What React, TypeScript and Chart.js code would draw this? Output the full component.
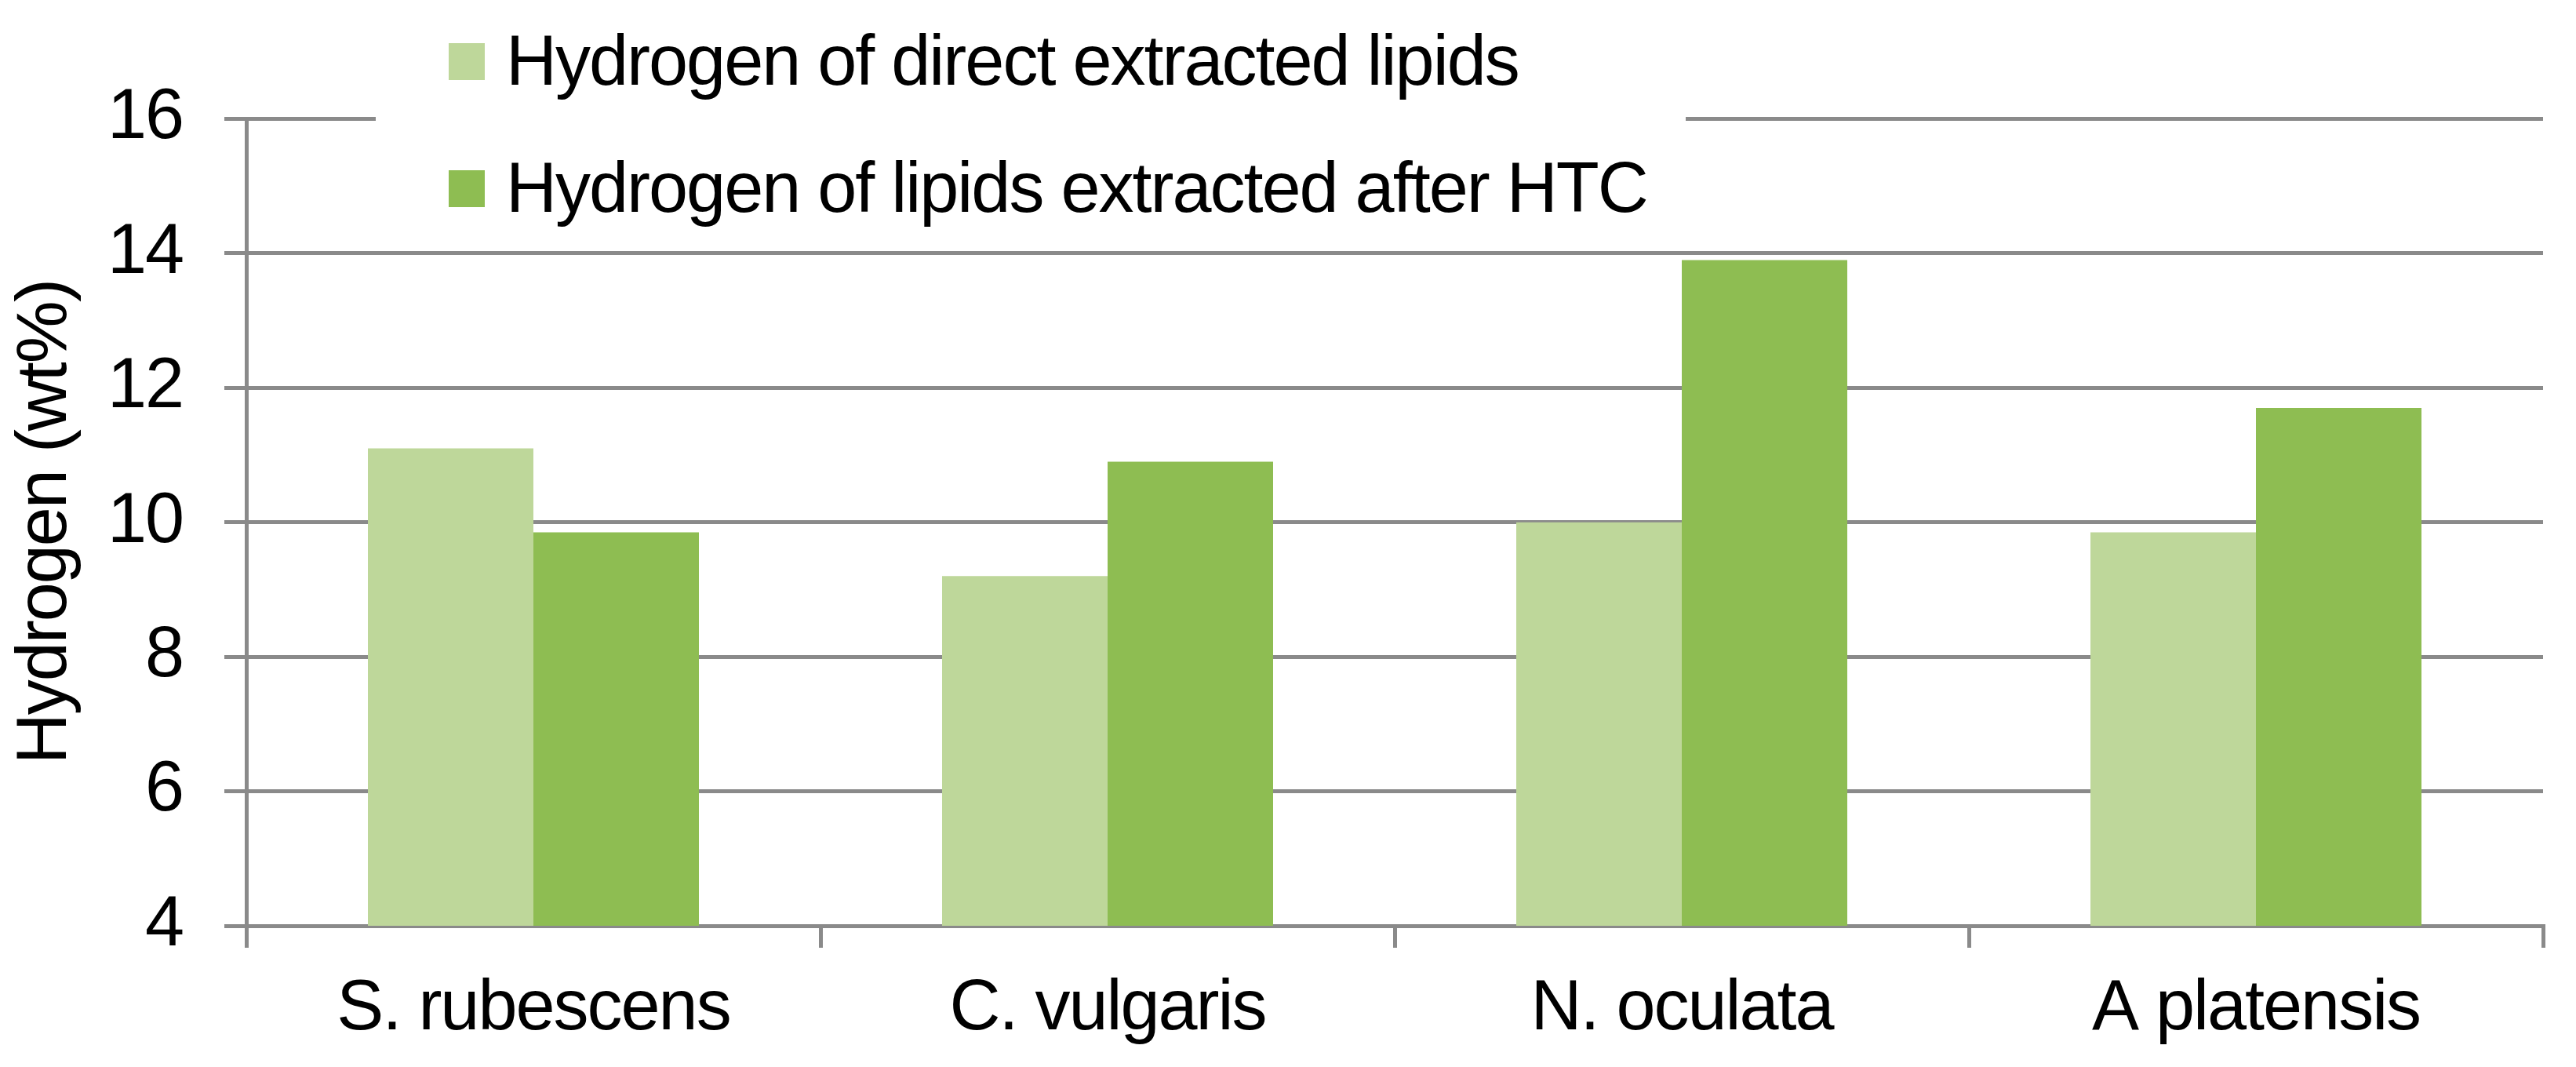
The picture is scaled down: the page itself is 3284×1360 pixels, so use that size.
import React, { useEffect, useRef } from "react";
import { Chart, registerables } from "chart.js";

Chart.register(...registerables);

const categories = ["S. rubescens", "C. vulgaris", "N. oculata", "A platensis"];
const seriesLabels = [
  "Hydrogen of direct extracted lipids",
  "Hydrogen of lipids extracted after HTC",
];
const directLipids = [11.1, 9.2, 10.0, 9.85];
const afterHtcLipids = [9.85, 10.9, 13.9, 11.7];
const yMin = 4;
const yMax = 16;
const yStep = 2;
const yTitle = "Hydrogen (wt%)";

const FONT_FAMILY = '"Liberation Sans", Arial, Helvetica, sans-serif';
const FONT_SIZE = 90;
const LETTER_SPACING = "-2px";
const GRID = "#8a8a8a";

const tightText = {
  id: "tightText",
  beforeUpdate(chart: any) {
    (chart.ctx as any).letterSpacing = LETTER_SPACING;
  },
  beforeDraw(chart: any) {
    (chart.ctx as any).letterSpacing = LETTER_SPACING;
  },
};

const insetLegend = {
  id: "insetLegend",
  afterDraw(chart: any) {
    const ctx = chart.ctx as CanvasRenderingContext2D;
    ctx.save();
    (ctx as any).letterSpacing = LETTER_SPACING;
    ctx.fillStyle = "#ffffff";
    ctx.fillRect(479, 0, 1670, 305);
    ctx.font = `${FONT_SIZE}px ${FONT_FAMILY}`;
    ctx.textAlign = "left";
    ctx.textBaseline = "alphabetic";
    chart.data.datasets.forEach((ds: any, i: number) => {
      const top = 55 + i * 162;
      ctx.fillStyle = ds.backgroundColor;
      ctx.fillRect(572, top, 46, 47);
      ctx.fillStyle = "#000000";
      ctx.fillText(ds.label, 645, 108 + i * 162);
    });
    ctx.restore();
  },
};

export default function App() {
  const ref = useRef<HTMLCanvasElement | null>(null);

  useEffect(() => {
    if (!ref.current) return;
    const chart = new Chart(ref.current, {
      type: "bar",
      data: {
        labels: categories,
        datasets: [
          {
            label: seriesLabels[0],
            data: directLipids,
            backgroundColor: "#bed79a",
            borderWidth: 0,
            categoryPercentage: 0.5765,
            barPercentage: 1,
          },
          {
            label: seriesLabels[1],
            data: afterHtcLipids,
            backgroundColor: "#8ebd52",
            borderWidth: 0,
            categoryPercentage: 0.5765,
            barPercentage: 1,
          },
        ],
      },
      options: {
        responsive: false,
        animation: false,
        devicePixelRatio: 1,
        layout: { padding: { top: 151.5, right: 42, bottom: 0, left: 0 } },
        plugins: {
          legend: { display: false },
          tooltip: { enabled: false },
          title: { display: false },
        },
        scales: {
          x: {
            type: "category",
            offset: true,
            grid: {
              offset: true,
              drawOnChartArea: false,
              drawTicks: true,
              tickLength: 28,
              color: GRID,
              lineWidth: 5,
            },
            border: { display: true, color: GRID, width: 5 },
            ticks: {
              color: "#000000",
              padding: 25,
              maxRotation: 0,
              autoSkip: false,
              font: { family: FONT_FAMILY, size: FONT_SIZE },
            },
            afterFit: (scale: any) => {
              scale.height = 180;
            },
          },
          y: {
            min: yMin,
            max: yMax,
            grid: {
              drawTicks: true,
              tickLength: 28,
              color: GRID,
              lineWidth: 5,
            },
            border: { display: true, color: GRID, width: 5 },
            ticks: {
              stepSize: yStep,
              color: "#000000",
              padding: 53,
              font: { family: FONT_FAMILY, size: FONT_SIZE },
            },
            title: {
              display: true,
              text: yTitle,
              color: "#000000",
              padding: { top: 5, bottom: 0 },
              font: { family: FONT_FAMILY, size: FONT_SIZE },
            },
            afterFit: (scale: any) => {
              scale.width = 314;
            },
          },
        },
      },
      plugins: [tightText, insetLegend],
    } as any);
    return () => chart.destroy();
  }, []);

  return (
    <div
      style={{
        position: "absolute",
        left: 0,
        top: 0,
        width: 3284,
        height: 1360,
        background: "#ffffff",
      }}
    >
      <canvas ref={ref} width={3284} height={1360} />
    </div>
  );
}
